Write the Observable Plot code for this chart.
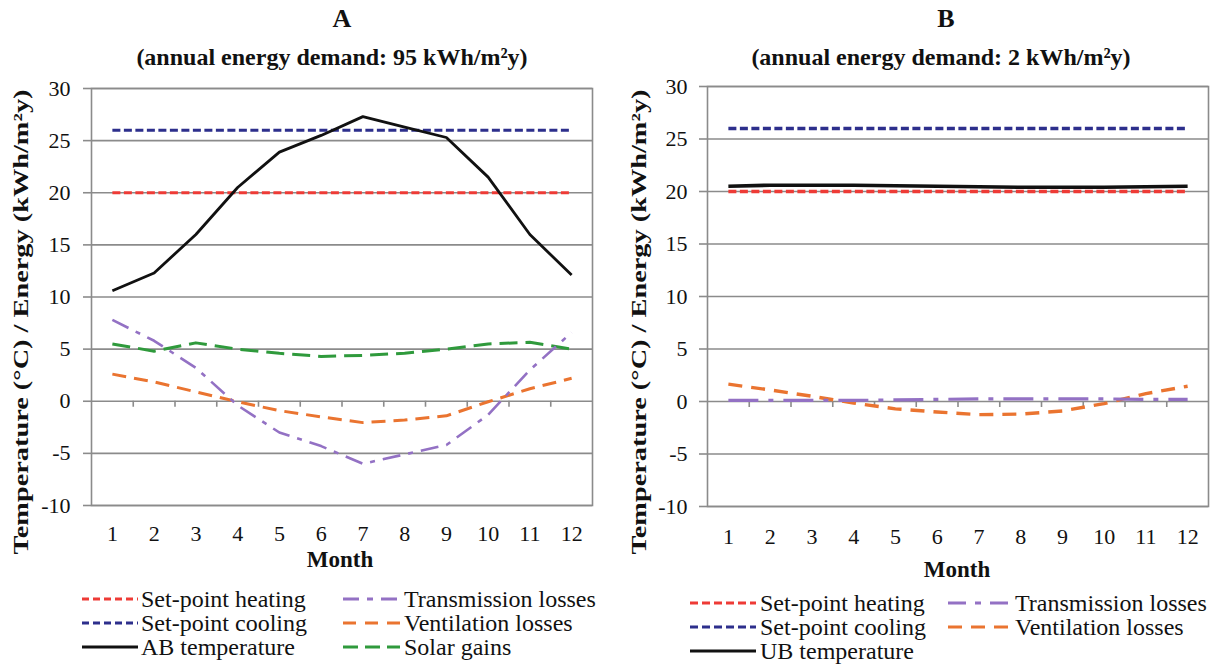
<!DOCTYPE html>
<html>
<head>
<meta charset="utf-8">
<script src="https://cdn.jsdelivr.net/npm/d3@7"></script>
<script src="https://cdn.jsdelivr.net/npm/@observablehq/plot@0.6"></script>
<style>
  html, body { margin: 0; padding: 0; background: #fff; }
  #root { position: relative; width: 1212px; height: 666px; overflow: hidden; font-family: "Liberation Serif", "Times New Roman", serif; }
  .panel { position: absolute; top: 70px; }
  #overlay { position: absolute; left: 0; top: 0; pointer-events: none; }
</style>
</head>
<body>
<div id="root"></div>
<script>
// ---------------- data ----------------
const months = [1, 2, 3, 4, 5, 6, 7, 8, 9, 10, 11, 12];
const yTicks = [-10, -5, 0, 5, 10, 15, 20, 25, 30];
const categoryEdges = [1.5, 2.5, 3.5, 4.5, 5.5, 6.5, 7.5, 8.5, 9.5, 10.5, 11.5];

// Panel A
const setPointHeatingA = [20, 20, 20, 20, 20, 20, 20, 20, 20, 20, 20, 20];
const setPointCoolingA = [26, 26, 26, 26, 26, 26, 26, 26, 26, 26, 26, 26];
const abTemperature    = [10.6, 12.3, 16.0, 20.5, 23.9, 25.5, 27.3, 26.3, 25.3, 21.5, 16.0, 12.1];
const transmissionA    = [7.8, 5.8, 3.2, -0.4, -3.0, -4.3, -6.0, -5.1, -4.2, -1.3, 3.0, 6.6];
const ventilationA     = [2.6, 1.85, 0.9, -0.05, -0.9, -1.5, -2.05, -1.8, -1.4, -0.05, 1.2, 2.2];
const solarGainsA      = [5.5, 4.8, 5.6, 5.0, 4.6, 4.3, 4.4, 4.6, 5.0, 5.5, 5.65, 5.0];

// Panel B
const setPointHeatingB = [20, 20, 20, 20, 20, 20, 20, 20, 20, 20, 20, 20];
const setPointCoolingB = [26, 26, 26, 26, 26, 26, 26, 26, 26, 26, 26, 26];
const ubTemperature    = [20.5, 20.6, 20.6, 20.6, 20.55, 20.5, 20.45, 20.4, 20.4, 20.4, 20.45, 20.5];
const transmissionB    = [0.1, 0.1, 0.1, 0.1, 0.15, 0.2, 0.25, 0.25, 0.25, 0.25, 0.2, 0.2];
const ventilationB     = [1.65, 1.1, 0.5, -0.15, -0.7, -1.0, -1.25, -1.2, -0.9, -0.2, 0.75, 1.45];

// Text
const titleA = "A", subtitleA = "(annual energy demand: 95 kWh/m²y)";
const titleB = "B", subtitleB = "(annual energy demand: 2 kWh/m²y)";
const yTitle = "Temperature (°C) / Energy (kWh/m²y)";
const xTitle = "Month";
const namesA = ["Set-point heating", "Set-point cooling", "AB temperature", "Transmission losses", "Ventilation losses", "Solar gains"];
const namesB = ["Set-point heating", "Set-point cooling", "UB temperature", "Transmission losses", "Ventilation losses"];

// ---------------- styles ----------------
const GRID = "#8b8b8b";
const FONT = "'Liberation Serif', 'Times New Roman', serif";
const st = {
  heating:   {stroke: "#ee3b36", width: 3, dash: "8,3.5"},
  cooling:   {stroke: "#2d2f8c", width: 3, dash: "8,3.5"},
  temp:      {stroke: "#111111", width: 2.8, dash: null},
  trans:     {stroke: "#9371c4", width: 2.6, dash: "18,8,5,8"},
  vent:      {stroke: "#ea7430", width: 3, dash: "14,8"},
  solar:     {stroke: "#2f9a3c", width: 3, dash: "18,8"}
};
const stB = {
  heating:   {stroke: "#ee3b36", width: 3.4, dash: "8,3.5"},
  cooling:   {stroke: "#2d2f8c", width: 3.4, dash: "8,3.5"},
  temp:      {stroke: "#111111", width: 3.6, dash: null},
  trans:     {stroke: "#9371c4", width: 3.2, dash: "30,10,5,10"},
  vent:      {stroke: "#ea7430", width: 3.4, dash: "14,9"}
};

function rows(values) { return months.map((m, i) => ({month: m, value: values[i]})); }

function panel(series, m) {
  const marks = [
    Plot.ruleY(yTicks, {stroke: GRID, strokeWidth: 1.6}),
    Plot.frame({stroke: GRID, strokeWidth: 1.6}),
    Plot.ruleX(categoryEdges, {y1: 0, y2: 0, insetBottom: -6, stroke: GRID, strokeWidth: 1.6}),
    Plot.axisY({ticks: yTicks, tickSize: 8, tickPadding: m.yPad, tickFormat: d => String(d), stroke: GRID, strokeWidth: 1.6, fill: "#111", label: null}),
    Plot.axisX({ticks: months, tickSize: 0, tickPadding: m.xPad, tickFormat: d => String(d), fill: "#111", label: null})
  ];
  for (const s of series) {
    marks.push(Plot.line(rows(s.values), {
      x: "month", y: "value",
      stroke: s.style.stroke, strokeWidth: s.style.width,
      strokeDasharray: s.style.dash || undefined,
      strokeLinecap: "butt", strokeLinejoin: "round"
    }));
  }
  return Plot.plot({
    width: 606, height: 510,
    marginLeft: m.left, marginRight: m.right, marginTop: m.top, marginBottom: m.bottom,
    x: {domain: [0.5, 12.5], axis: null},
    y: {domain: [-10, 30], axis: null},
    style: {fontFamily: FONT, fontSize: "22px", color: "#111", background: "transparent", overflow: "visible"},
    marks
  });
}

const root = document.getElementById("root");

const pA = panel([
  {values: setPointHeatingA, style: st.heating},
  {values: setPointCoolingA, style: st.cooling},
  {values: solarGainsA, style: st.solar},
  {values: ventilationA, style: st.vent},
  {values: transmissionA, style: st.trans},
  {values: abTemperature, style: st.temp}
], {left: 91, right: 14, top: 18, bottom: 75, yPad: 13, xPad: 20});
pA.classList.add("panel");
pA.style.left = "0px";
root.appendChild(pA);

const pB = panel([
  {values: setPointHeatingB, style: stB.heating},
  {values: setPointCoolingB, style: stB.cooling},
  {values: ventilationB, style: stB.vent},
  {values: transmissionB, style: stB.trans},
  {values: ubTemperature, style: stB.temp}
], {left: 101, right: 4, top: 16, bottom: 74, yPad: 12, xPad: 22});
pB.classList.add("panel");
pB.style.left = "606px";
root.appendChild(pB);

// ---------------- overlay: titles, axis titles, legends ----------------
const svg = d3.select(root).append("svg").attr("id", "overlay")
  .attr("width", 1212).attr("height", 666)
  .style("font-family", FONT).style("fill", "#111");

function txt(x, y, s, size, weight, anchor) {
  return svg.append("text").attr("x", x).attr("y", y).attr("font-size", size)
    .attr("font-weight", weight || "normal").attr("text-anchor", anchor || "start").text(s);
}
txt(342, 27, titleA, 26, "bold", "middle");
txt(332, 65, subtitleA, 24, "bold", "middle");
txt(946, 27, titleB, 26, "bold", "middle");
txt(941, 65, subtitleB, 24, "bold", "middle");
txt(340, 567, xTitle, 23, "bold", "middle");
txt(957, 577, xTitle, 23, "bold", "middle");

function yTitleAt(x, cy) {
  svg.append("text").attr("transform", `translate(${x},${cy}) rotate(-90)`)
    .attr("font-size", 21).attr("font-weight", "bold").attr("text-anchor", "middle")
    .attr("textLength", 465).attr("lengthAdjust", "spacingAndGlyphs").text(yTitle);
}
yTitleAt(28, 322);
yTitleAt(646, 322);

function legendItem(x0, x1, tx, cy, name, style, dash) {
  const l = svg.append("line").attr("x1", x0).attr("x2", x1).attr("y1", cy).attr("y2", cy)
    .attr("stroke", style.stroke).attr("stroke-width", 3);
  if (dash) l.attr("stroke-dasharray", dash);
  txt(tx, cy + 8, name, 24, "normal", "start");
}
// Legend A
legendItem(82, 138, 141, 599, namesA[0], st.heating, "7,4");
legendItem(82, 138, 141, 623, namesA[1], st.cooling, "7,4");
legendItem(82, 138, 141, 647, namesA[2], st.temp, null);
legendItem(343, 400, 404, 599, namesA[3], st.trans, "16,8,6,8");
legendItem(343, 400, 404, 623, namesA[4], st.vent, "13,9");
legendItem(343, 400, 404, 647, namesA[5], st.solar, "15,7");
// Legend B
legendItem(690, 756, 760, 603, namesB[0], stB.heating, "8,4");
legendItem(690, 756, 760, 627, namesB[1], stB.cooling, "8,4");
legendItem(690, 756, 760, 651, namesB[2], stB.temp, null);
legendItem(948, 1012, 1015, 603, namesB[3], stB.trans, "18,9,6,9");
legendItem(948, 1012, 1015, 627, namesB[4], stB.vent, "14,9");
</script>
</body>
</html>
